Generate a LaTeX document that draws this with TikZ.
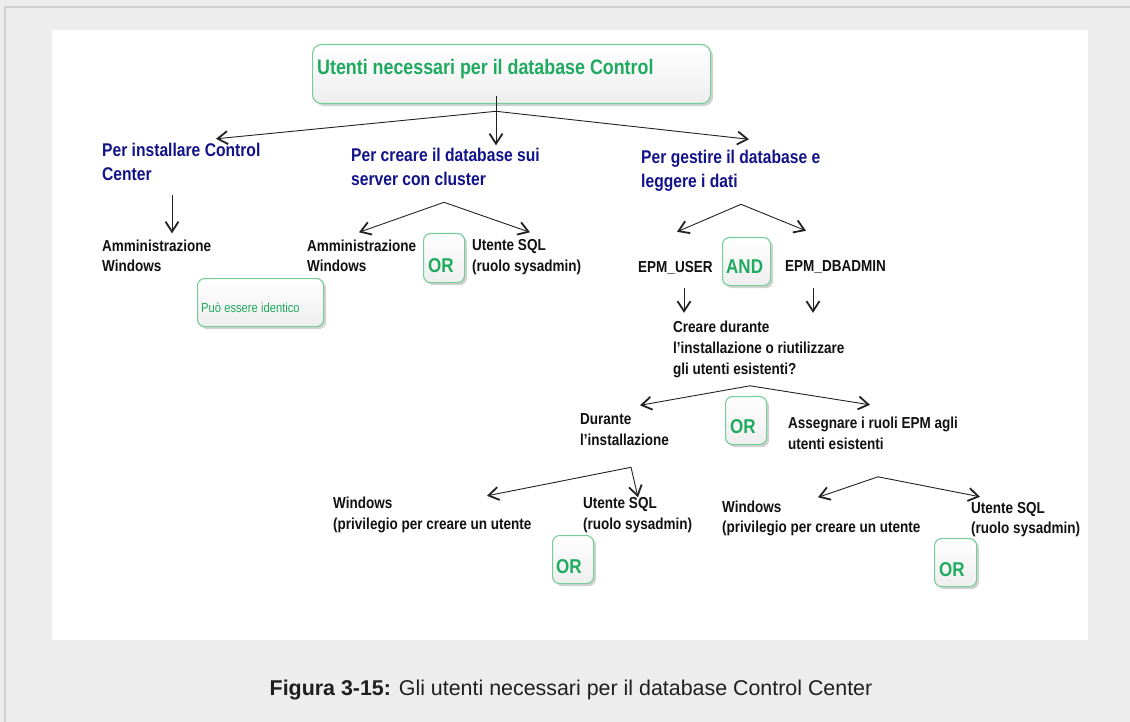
\documentclass[tikz,border=0pt]{standalone}
\usepackage{fontspec}
\setmainfont{Liberation Sans}
\newfontfamily\dfont[FakeStretch=0.85]{Liberation Sans}
\usetikzlibrary{arrows.meta,shadows,calc}
\definecolor{bgc}{HTML}{EDEDED}
\definecolor{bordc}{HTML}{D0D0D0}
\definecolor{greenc}{HTML}{1EAA5F}
\definecolor{boxc}{HTML}{74CE9A}
\definecolor{boxbot}{HTML}{EEEEEE}
\definecolor{navyc}{HTML}{12128A}
\definecolor{blkc}{HTML}{111111}
\definecolor{linec}{HTML}{222222}
\begin{document}
\begin{tikzpicture}[x=1pt,y=-1pt,
  arr/.style={draw=linec, line width=0.9pt, -{Straight Barb[length=10pt,width=13pt,line width=1.8pt]}},
  gbox/.style={draw=boxc, line width=1.1pt, rounded corners=7pt, top color=white, bottom color=boxbot,
    drop shadow={shadow xshift=2.5pt, shadow yshift=-2.5pt, opacity=0.35, fill=black!50}, inner sep=0pt, anchor=north west},
  navy/.style={text=navyc, font=\dfont\bfseries\fontsize{18.4}{24}\selectfont, align=left, anchor=north west, inner sep=0pt},
  blk/.style={text=blkc, font=\dfont\bfseries\fontsize{15.9}{20.8}\selectfont, align=left, anchor=north west, inner sep=0pt},
  optxt/.style={text=greenc, font=\dfont\bfseries\fontsize{20}{22}\selectfont, anchor=north west, inner sep=0pt},
]
\useasboundingbox (0,0) rectangle (1130,722);
\fill[bgc] (0,0) rectangle (1130,722);
\draw[bordc, line width=1.5pt] (5,730) -- (5,7) -- (1140,7);
\fill[white] (52,30) rectangle (1088,640);

% boxes
\node[gbox, minimum width=398pt, minimum height=59pt, rounded corners=9pt] (tbox) at (312,44) {};
\node[gbox, minimum width=126pt, minimum height=48pt] (pbox) at (197,278) {};
\node[gbox, minimum width=41pt, minimum height=49pt] (or1) at (423,233) {};
\node[gbox, minimum width=48pt, minimum height=48pt] (and1) at (722,237) {};
\node[gbox, minimum width=41pt, minimum height=48pt] (or2) at (725,396) {};
\node[gbox, minimum width=41pt, minimum height=48pt] (or3) at (552,535) {};
\node[gbox, minimum width=42pt, minimum height=48pt] (or4) at (934,538) {};

% box texts
\node[text=greenc, font=\dfont\bfseries\fontsize{21}{24}\selectfont, anchor=north west, inner sep=0pt] (ttl) at (317,58.8) {Utenti necessari per il database Control};
\node[text=greenc, font=\dfont\fontsize{13.2}{16}\selectfont, anchor=north west, inner sep=0pt] (ptxt) at (201,302.9) {Può essere identico};
\node[optxt] (or1t) at (428,258.2) {OR};
\node[optxt] (andt) at (726,259.2) {AND};
\node[optxt] (or2t) at (730,419.2) {OR};
\node[optxt] (or3t) at (556,559.2) {OR};
\node[optxt] (or4t) at (939,562.2) {OR};

% text nodes
\node[navy] (inst) at (102,142.8) {Per installare Control\\Center};
\node[navy] (creare) at (351,148.3) {Per creare il database sui\\server con cluster};
\node[navy] (gest) at (641,150.3) {Per gestire il database e\\leggere i dati};
\node[blk] (adm1) at (102,239.3) {Amministrazione\\Windows};
\node[blk] (adm2) at (307,239.3) {Amministrazione\\Windows};
\node[blk] (sql1) at (472,239.3) {Utente SQL\\(ruolo sysadmin)};
\node[blk] (epmu) at (638,260.8) {EPM\_USER};
\node[blk] (epmd) at (785,260.8) {EPM\_DBADMIN};
\node[blk] (crea) at (673,320.8) {Creare durante\\l’installazione o riutilizzare\\gli utenti esistenti?};
\node[blk] (dur) at (580,413.3) {Durante\\l’installazione};
\node[blk] (ass) at (788,416.8) {Assegnare i ruoli EPM agli\\utenti esistenti};
\node[blk] (winL) at (333,496.8) {Windows\\(privilegio per creare un utente};
\node[blk] (sqlL) at (583,497.3) {Utente SQL\\(ruolo sysadmin)};
\node[blk] (winR) at (722,500.3) {Windows\\(privilegio per creare un utente};
\node[blk] (sqlR) at (971,501.8) {Utente SQL\\(ruolo sysadmin)};

% connectors
\coordinate (b0) at ($(creare.north west)+(145,-37)$);
\coordinate (s0) at (b0 |- tbox.south);
\coordinate (s1) at (b0 |- creare.north);
\draw[arr] ($(s0)+(0,-8)$) -- ($(s1)+(0,-3)$);
\draw[arr] (b0) -- ($(inst.north west)+(114,-4)$);
\draw[arr] (b0) -- ($(gest.north west)+(108,-11)$);
\draw[arr] ($(inst.north west)+(70,52)$) -- ($(adm1.north west)+(70,-6)$);
\coordinate (b2) at ($(creare.north west)+(93,54)$);
\draw[arr] (b2) -- ($(adm2.north west)+(52,-7)$);
\draw[arr] (b2) -- ($(sql1.north west)+(58,-7)$);
\coordinate (b3) at ($(gest.north west)+(100,54)$);
\draw[arr] (b3) -- ($(epmu.north west)+(39,-29)$);
\draw[arr] (b3) -- ($(epmd.north west)+(21,-30)$);
\draw[arr] ($(epmu.north west)+(46,27)$) -- ($(crea.north west)+(11,-8)$);
\draw[arr] ($(epmd.north west)+(28,27)$) -- ($(crea.north west)+(140,-8)$);
\coordinate (b4) at ($(crea.north west)+(77,65)$);
\draw[arr] (b4) -- ($(dur.north west)+(60,-8)$);
\draw[arr] (b4) -- ($(ass.north west)+(82,-12)$);
\coordinate (b5) at ($(dur.north west)+(51,54)$);
\draw[arr] (b5) -- ($(winL.north west)+(154,-1)$);
\draw[arr] (b5) -- ($(sqlL.north west)+(55,0)$);
\coordinate (b6) at ($(ass.north west)+(90,60)$);
\draw[arr] (b6) -- ($(winR.north west)+(96,-3)$);
\draw[arr] (b6) -- ($(sqlR.north west)+(9,-5)$);

% caption
\node[anchor=base, font=\fontsize{21.4}{24}\selectfont, text=black!88, inner sep=0pt] (cap) at (571,695) {\textbf{Figura 3-15:} Gli utenti necessari per il database Control Center};
\end{tikzpicture}
\end{document}
